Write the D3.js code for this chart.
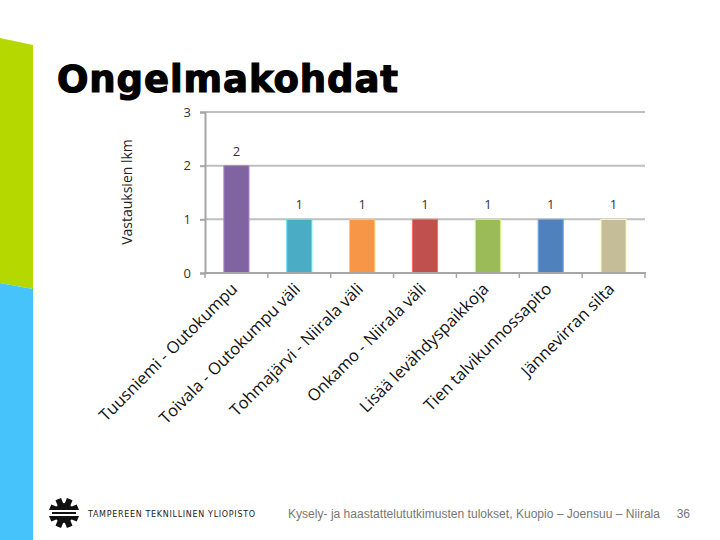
<!DOCTYPE html>
<html>
<head>
<meta charset="utf-8">
<script src="https://cdn.jsdelivr.net/npm/d3@7"></script>
<style>
  body { margin: 0; background: #fff; }
  svg { display: block; }
</style>
</head>
<body>
<div class="slide"></div>
<script>
// data
const categories = ["Tuusniemi - Outokumpu", "Toivala - Outokumpu väli", "Tohmajärvi - Niirala väli",
  "Onkamo - Niirala väli", "Lisää levähdyspaikkoja", "Tien talvikunnossapito", "Jännevirran silta"];
const counts = [2, 1, 1, 1, 1, 1, 1];
const barColors = ["#8064A2", "#4BACC6", "#F79646", "#C0504D", "#9BBB59", "#4F81BD", "#C4BD97"];
const yTicks = [0, 1, 2, 3];

const width = 720, height = 540;

const svg = d3.select(".slide").append("svg")
  .attr("width", width)
  .attr("height", height);

// slide decoration on the left
svg.append("path")
  .attr("d", "M0,38 L33,45 L33,289 L0,283 Z")
  .attr("fill", "#B5D900");
svg.append("path")
  .attr("d", "M0,283 L33,289 L33,540 L0,540 Z")
  .attr("fill", "#45C3FA");

// title
svg.append("text")
  .attr("x", 57).attr("y", 92)
  .attr("font-family", "DejaVu Sans")
  .attr("font-weight", "bold")
  .attr("font-size", 37)
  .attr("stroke", "#000").attr("stroke-width", 1.2)
  .attr("textLength", 341)
  .text("Ongelmakohdat");

// scales
const x = d3.scaleBand().domain(categories).range([205, 645]).paddingInner(0.6).paddingOuter(0.3);
const y = d3.scaleLinear().domain([0, 3]).range([273, 112]);

const chart = svg.append("g");

// gridlines
chart.selectAll(".grid")
  .data(yTicks.slice(1))
  .enter().append("line")
  .attr("x1", 205).attr("x2", 645)
  .attr("y1", d => y(d)).attr("y2", d => y(d))
  .attr("stroke", "#BFBFBF").attr("stroke-width", 2);

// bars
chart.selectAll(".bar")
  .data(counts)
  .enter().append("rect")
  .attr("x", (d, i) => x(categories[i]))
  .attr("y", d => y(d))
  .attr("width", x.bandwidth())
  .attr("height", d => y(0) - y(d))
  .attr("fill", (d, i) => barColors[i])
  .attr("stroke", (d, i) => d3.color(barColors[i]).brighter(0.8))
  .attr("stroke-width", 1);

// value labels
chart.selectAll(".val")
  .data(counts)
  .enter().append("text")
  .attr("x", (d, i) => x(categories[i]) + x.bandwidth() / 2)
  .attr("y", d => y(d) - 10)
  .attr("text-anchor", "middle")
  .attr("font-family", "Open Sans")
  .attr("font-size", 13)
  .attr("fill", "#333")
  .text(d => d);

// y axis
const yAxis = chart.append("g")
  .attr("transform", "translate(205,0)")
  .call(d3.axisLeft(y).tickValues(yTicks).tickSize(5).tickFormat(d3.format("d")));
yAxis.select(".domain").attr("stroke", "#A6A6A6").attr("stroke-width", 2);
yAxis.selectAll(".tick line").attr("stroke", "#A6A6A6").attr("stroke-width", 2);
yAxis.selectAll(".tick text")
  .attr("font-family", "Open Sans").attr("font-size", 13).attr("fill", "#333").attr("x", -14);

// x axis line and boundary ticks
chart.append("line")
  .attr("x1", 204).attr("x2", 646).attr("y1", 273).attr("y2", 273)
  .attr("stroke", "#A6A6A6").attr("stroke-width", 2);
chart.selectAll(".xtick")
  .data(d3.range(categories.length + 1))
  .enter().append("line")
  .attr("x1", i => 205 + i * (440 / categories.length))
  .attr("x2", i => 205 + i * (440 / categories.length))
  .attr("y1", 273).attr("y2", 278)
  .attr("stroke", "#A6A6A6").attr("stroke-width", 1.5);

// rotated category labels
chart.selectAll(".cat")
  .data(categories)
  .enter().append("text")
  .attr("transform", d => "translate(" + (x(d) + x.bandwidth() / 2 + 2) + ",290) rotate(-45)")
  .attr("text-anchor", "end")
  .attr("font-family", "Open Sans")
  .attr("font-size", 16.5)
  .attr("fill", "#111")
  .text(d => d);

// y axis title
svg.append("text")
  .attr("transform", "translate(132,192) rotate(-90)")
  .attr("text-anchor", "middle")
  .attr("font-family", "Open Sans")
  .attr("font-size", 14)
  .attr("fill", "#222")
  .text("Vastauksien lkm");

// footer logo
const logo = svg.append("g").attr("transform", "translate(64,513)");
const teeth = d3.range(8).map(i => i * 45 + 22.5);
logo.selectAll(".tooth")
  .data(teeth)
  .enter().append("rect")
  .attr("x", -3).attr("y", -15).attr("width", 6).attr("height", 8)
  .attr("transform", d => "rotate(" + d + ")")
  .attr("fill", "#111");
logo.append("circle").attr("r", 10).attr("fill", "#111");
logo.append("rect").attr("x", -15).attr("y", -3).attr("width", 30).attr("height", 6).attr("fill", "#fff");
logo.append("rect").attr("x", -12).attr("y", -1).attr("width", 24).attr("height", 2).attr("fill", "#111");

svg.append("text")
  .attr("x", 88).attr("y", 517)
  .attr("font-family", "DejaVu Sans")
  .attr("font-size", 8)
  .attr("fill", "#222")
  .attr("textLength", 167)
  .text("TAMPEREEN TEKNILLINEN YLIOPISTO");

svg.append("text")
  .attr("x", 288).attr("y", 518)
  .attr("font-family", "Liberation Sans")
  .attr("font-size", 12)
  .attr("fill", "#777")
  .attr("textLength", 372)
  .attr("lengthAdjust", "spacingAndGlyphs")
  .text("Kysely- ja haastattelututkimusten tulokset, Kuopio – Joensuu – Niirala");

svg.append("text")
  .attr("x", 690).attr("y", 518)
  .attr("text-anchor", "end")
  .attr("font-family", "Liberation Sans")
  .attr("font-size", 12)
  .attr("fill", "#777")
  .text("36");
</script>
</body>
</html>
